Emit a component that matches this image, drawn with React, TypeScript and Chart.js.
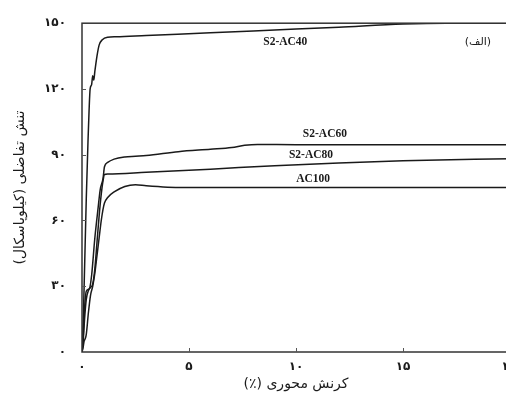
import React, { useEffect, useRef } from "react";
import { Chart, registerables } from "chart.js";

Chart.register(...registerables);

// ---- data ----
const xTickValues = [0, 5, 10, 15, 20];
const yTickValues = [0, 30, 60, 90, 120, 150];
const xTitle = "کرنش محوری (٪)";
const yTitle = "تنش تفاضلی (کیلوپاسکال)";
const panelTag = "(الف)";
const seriesNames = ["S2-AC40", "S2-AC60", "S2-AC80", "AC100"];

const ac40Strain = [0, 0.03, 0.1, 0.2, 0.28, 0.33, 0.38, 0.45, 0.5, 0.55, 0.6, 0.7, 0.8, 0.95, 1.2, 1.6, 3, 6, 9, 12, 15, 17, 20];
const ac40Stress = [0, 5, 30, 70, 96, 110, 120, 122, 126, 124, 128, 135, 140, 142.5, 143.6, 143.8, 144.4, 145.6, 146.9, 148.2, 149.6, 150, 150];

const ac60Strain = [0, 0.05, 0.12, 0.2, 0.35, 0.45, 0.6, 0.75, 0.85, 0.98, 1.05, 1.2, 1.5, 2, 2.5, 3, 4.5, 6, 7, 7.6, 8.2, 10, 15, 20];
const ac60Stress = [0, 6, 20, 27.7, 29, 35, 52, 65.5, 74, 79, 84.5, 86.5, 88, 89, 89.3, 89.6, 91.4, 92.5, 93.3, 94.3, 94.7, 94.6, 94.6, 94.6];

const ac80Strain = [0, 0.05, 0.12, 0.2, 0.3, 0.4, 0.5, 0.6, 0.7, 0.8, 0.9, 0.98, 1.05, 1.2, 3, 6, 9, 12, 15, 20];
const ac80Stress = [0, 4, 15, 24, 28, 29.5, 31, 38, 50, 62, 72, 78, 81, 81.2, 82, 83.4, 85, 86.2, 87.2, 88.2];

const ac100Strain = [0, 0.05, 0.1, 0.15, 0.2, 0.3, 0.4, 0.5, 0.6, 0.7, 0.8, 0.9, 0.98, 1.05, 1.2, 1.5, 2, 2.5, 3, 4, 6, 20];
const ac100Stress = [0, 2, 5, 6, 8, 18, 26, 30, 36, 44, 52, 60, 65, 68, 70.5, 73, 75.5, 76.3, 75.8, 75.2, 75, 75];

// label anchors in data units (strain, stress)
const labelAnchorX = [9.5, 11.35, 10.7, 10.8];
const labelAnchorY = [141.4, 99.5, 90, 79];
const tagAnchor = { x: 18.5, y: 141.4 };

const toFa = (v: number | string) =>
  String(v).replace(/\d/g, (d) => "۰۱۲۳۴۵۶۷۸۹"[+d]);

const zip = (xs: number[], ys: number[]) => xs.map((x, i) => ({ x, y: ys[i] }));

const FONT_SERIF = "'Liberation Serif', 'Times New Roman', 'DejaVu Sans', serif";
const INK = "#1a1a1a";

const framePlugin = {
  id: "frameAndLabels",
  afterDatasetsDraw(chart: any) {
    const { ctx, chartArea: ca, scales } = chart;
    const xs = scales.x;
    const ys = scales.y;
    ctx.save();
    ctx.strokeStyle = "#333";
    ctx.lineWidth = 1.5;
    ctx.strokeRect(ca.left, ca.top, ca.right - ca.left, ca.bottom - ca.top);
    // inward tick marks
    ctx.lineWidth = 1;
    ctx.strokeStyle = "#555";
    yTickValues.forEach((v) => {
      if (v === yTickValues[0] || v === yTickValues[yTickValues.length - 1]) return;
      const py = Math.round(ys.getPixelForValue(v)) + 0.5;
      ctx.beginPath();
      ctx.moveTo(ca.left, py);
      ctx.lineTo(ca.left + 4, py);
      ctx.stroke();
    });
    xTickValues.forEach((v) => {
      if (v === xTickValues[0] || v === xTickValues[xTickValues.length - 1]) return;
      const px = Math.round(xs.getPixelForValue(v)) + 0.5;
      ctx.beginPath();
      ctx.moveTo(px, ca.bottom);
      ctx.lineTo(px, ca.bottom - 4);
      ctx.stroke();
    });
    // series labels
    ctx.fillStyle = INK;
    ctx.textAlign = "center";
    ctx.textBaseline = "middle";
    ctx.direction = "ltr";
    ctx.font = `bold 11.5px ${FONT_SERIF}`;
    seriesNames.forEach((name, i) => {
      ctx.fillText(name, xs.getPixelForValue(labelAnchorX[i]), ys.getPixelForValue(labelAnchorY[i]));
    });
    ctx.direction = "rtl";
    ctx.font = `11px 'DejaVu Sans', sans-serif`;
    ctx.fillText(panelTag, xs.getPixelForValue(tagAnchor.x), ys.getPixelForValue(tagAnchor.y));
    ctx.restore();
  },
};

export default function App() {
  const ref = useRef<HTMLCanvasElement | null>(null);
  useEffect(() => {
    if (!ref.current) return;
    const lineStyle = {
      borderColor: INK,
      borderWidth: 1.5,
      pointRadius: 0,
      fill: false,
      cubicInterpolationMode: "monotone" as const,
    };
    const chart = new Chart(ref.current, {
      type: "line",
      data: {
        datasets: [
          { label: seriesNames[0], data: zip(ac40Strain, ac40Stress), ...lineStyle },
          { label: seriesNames[1], data: zip(ac60Strain, ac60Stress), ...lineStyle },
          { label: seriesNames[2], data: zip(ac80Strain, ac80Stress), ...lineStyle },
          { label: seriesNames[3], data: zip(ac100Strain, ac100Stress), ...lineStyle },
        ],
      },
      options: {
        animation: false,
        responsive: false,
        devicePixelRatio: 1,
        layout: { padding: { left: 0, top: 21, right: 20, bottom: 0 } },
        plugins: { legend: { display: false }, tooltip: { enabled: false } },
        scales: {
          x: {
            type: "linear",
            min: 0,
            max: 20,
            afterBuildTicks: (s: any) => {
              s.ticks = xTickValues.map((v) => ({ value: v }));
            },
            afterFit: (s: any) => {
              s.height = 51;
            },
            grid: { display: false, drawTicks: false },
            border: { display: false },
            ticks: {
              autoSkip: false,
              maxRotation: 0,
              padding: 8,
              color: INK,
              font: { size: 12, weight: "bold", family: FONT_SERIF },
              callback: (v: any) => toFa(v),
            },
            title: {
              display: true,
              text: xTitle,
              color: INK,
              font: { size: 14, family: "'DejaVu Sans', sans-serif" },
              padding: { top: 0, bottom: 10 },
            },
          },
          y: {
            type: "linear",
            min: 0,
            max: 150,
            afterBuildTicks: (s: any) => {
              s.ticks = yTickValues.map((v) => ({ value: v }));
            },
            afterFit: (s: any) => {
              s.width = 82;
            },
            grid: { display: false, drawTicks: false },
            border: { display: false },
            ticks: {
              autoSkip: false,
              padding: 16,
              color: INK,
              font: { size: 12, weight: "bold", family: FONT_SERIF },
              callback: (v: any) => toFa(v),
            },
            title: {
              display: true,
              text: yTitle,
              color: INK,
              font: { size: 14, family: "'DejaVu Sans', sans-serif" },
              padding: { top: 12, bottom: 0 },
            },
          },
        },
      },
      plugins: [framePlugin],
    } as any);
    return () => chart.destroy();
  }, []);

  return (
    <div
      style={{
        position: "fixed",
        left: 0,
        top: 0,
        width: 506,
        height: 403,
        overflow: "hidden",
        background: "#fff",
      }}
    >
      <canvas ref={ref} width={530} height={403} dir="rtl" style={{ display: "block" }} />
    </div>
  );
}
